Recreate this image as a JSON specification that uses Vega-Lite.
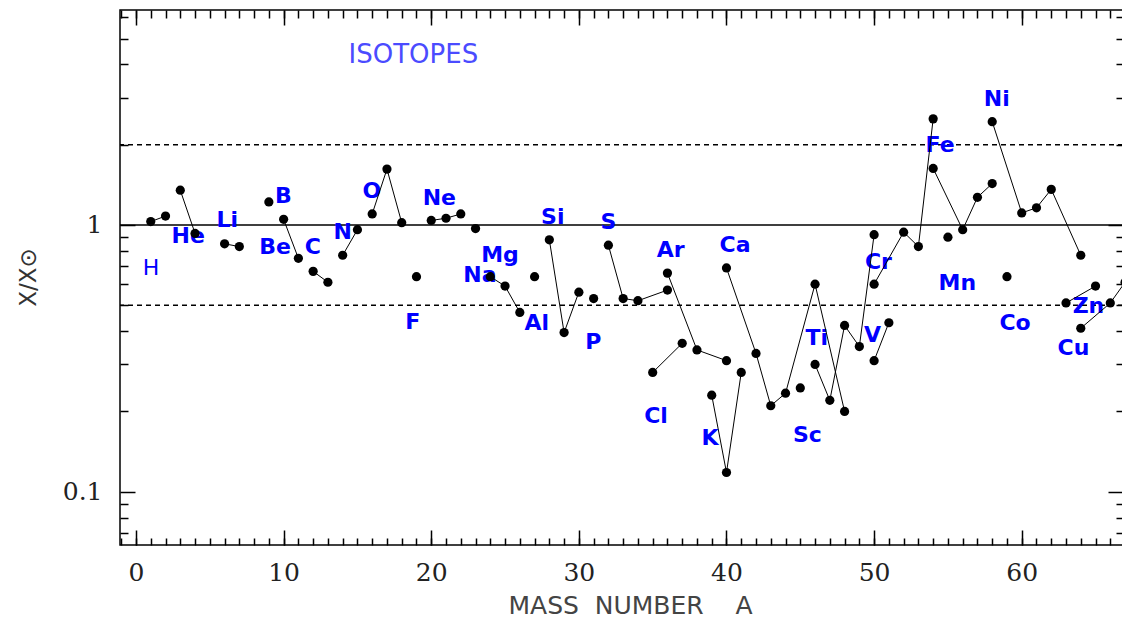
{
  "$schema": "https://vega.github.io/schema/vega-lite/v6.json",
  "width": 1003,
  "height": 535,
  "autosize": {"type": "none"},
  "padding": {"left": 120, "top": 10, "right": 0, "bottom": 74},
  "background": "white",
  "config": {
    "view": {"stroke": "#000", "strokeWidth": 1.5},
    "axis": {"grid": false, "domain": false}
  },
  "datasets": {
    "hl": [
      {"v": 1, "k": "solid"},
      {"v": 2, "k": "dash"},
      {"v": 0.5, "k": "dash"}
    ],
    "pts": [
      {"el": "H", "A": 1, "r": 1.03}, {"el": "H", "A": 2, "r": 1.08},
      {"el": "He", "A": 3, "r": 1.35}, {"el": "He", "A": 4, "r": 0.93},
      {"el": "Li", "A": 6, "r": 0.85}, {"el": "Li", "A": 7, "r": 0.83},
      {"el": "Be", "A": 9, "r": 1.22},
      {"el": "B", "A": 10, "r": 1.05}, {"el": "B", "A": 11, "r": 0.75},
      {"el": "C", "A": 12, "r": 0.67}, {"el": "C", "A": 13, "r": 0.61},
      {"el": "N", "A": 14, "r": 0.77}, {"el": "N", "A": 15, "r": 0.96},
      {"el": "O", "A": 16, "r": 1.10}, {"el": "O", "A": 17, "r": 1.62}, {"el": "O", "A": 18, "r": 1.02},
      {"el": "F", "A": 19, "r": 0.64},
      {"el": "Ne", "A": 20, "r": 1.04}, {"el": "Ne", "A": 21, "r": 1.06}, {"el": "Ne", "A": 22, "r": 1.10},
      {"el": "Na", "A": 23, "r": 0.97},
      {"el": "Mg", "A": 24, "r": 0.64}, {"el": "Mg", "A": 25, "r": 0.59}, {"el": "Mg", "A": 26, "r": 0.47},
      {"el": "Al", "A": 27, "r": 0.64},
      {"el": "Si", "A": 28, "r": 0.88}, {"el": "Si", "A": 29, "r": 0.395}, {"el": "Si", "A": 30, "r": 0.56},
      {"el": "P", "A": 31, "r": 0.53},
      {"el": "S", "A": 32, "r": 0.84}, {"el": "S", "A": 33, "r": 0.53}, {"el": "S", "A": 34, "r": 0.52}, {"el": "S", "A": 36, "r": 0.57},
      {"el": "Cl", "A": 35, "r": 0.28}, {"el": "Cl", "A": 37, "r": 0.36},
      {"el": "Ar", "A": 36, "r": 0.66}, {"el": "Ar", "A": 38, "r": 0.34}, {"el": "Ar", "A": 40, "r": 0.31},
      {"el": "K", "A": 39, "r": 0.23}, {"el": "K", "A": 40, "r": 0.118}, {"el": "K", "A": 41, "r": 0.28},
      {"el": "Ca", "A": 40, "r": 0.69}, {"el": "Ca", "A": 42, "r": 0.33}, {"el": "Ca", "A": 43, "r": 0.21}, {"el": "Ca", "A": 44, "r": 0.234}, {"el": "Ca", "A": 46, "r": 0.60}, {"el": "Ca", "A": 48, "r": 0.20},
      {"el": "Sc", "A": 45, "r": 0.245},
      {"el": "Ti", "A": 46, "r": 0.30}, {"el": "Ti", "A": 47, "r": 0.22}, {"el": "Ti", "A": 48, "r": 0.42}, {"el": "Ti", "A": 49, "r": 0.35}, {"el": "Ti", "A": 50, "r": 0.92},
      {"el": "V", "A": 50, "r": 0.31}, {"el": "V", "A": 51, "r": 0.43},
      {"el": "Cr", "A": 50, "r": 0.60}, {"el": "Cr", "A": 52, "r": 0.94}, {"el": "Cr", "A": 53, "r": 0.83}, {"el": "Cr", "A": 54, "r": 2.5},
      {"el": "Mn", "A": 55, "r": 0.90},
      {"el": "Fe", "A": 54, "r": 1.63}, {"el": "Fe", "A": 56, "r": 0.96}, {"el": "Fe", "A": 57, "r": 1.27}, {"el": "Fe", "A": 58, "r": 1.43},
      {"el": "Co", "A": 59, "r": 0.64},
      {"el": "Ni", "A": 58, "r": 2.44}, {"el": "Ni", "A": 60, "r": 1.11}, {"el": "Ni", "A": 61, "r": 1.16}, {"el": "Ni", "A": 62, "r": 1.36}, {"el": "Ni", "A": 64, "r": 0.77},
      {"el": "Cu", "A": 63, "r": 0.51}, {"el": "Cu", "A": 65, "r": 0.59},
      {"el": "Zn", "A": 64, "r": 0.41}, {"el": "Zn", "A": 66, "r": 0.51}, {"el": "Zn", "A": 67, "r": 0.61}
    ],
    "labels": [
      {"el": "H", "lx": 1.02, "ly": 0.688},
      {"el": "He", "lx": 3.54, "ly": 0.909},
      {"el": "Li", "lx": 6.19, "ly": 1.044},
      {"el": "B", "lx": 9.98, "ly": 1.288},
      {"el": "Be", "lx": 9.42, "ly": 0.825},
      {"el": "C", "lx": 11.97, "ly": 0.825},
      {"el": "N", "lx": 14.0, "ly": 0.944},
      {"el": "O", "lx": 15.97, "ly": 1.345},
      {"el": "F", "lx": 18.74, "ly": 0.434},
      {"el": "Ne", "lx": 20.55, "ly": 1.26},
      {"el": "Mg", "lx": 24.66, "ly": 0.772},
      {"el": "Na", "lx": 23.3, "ly": 0.649},
      {"el": "Al", "lx": 27.15, "ly": 0.428},
      {"el": "Si", "lx": 28.23, "ly": 1.074},
      {"el": "P", "lx": 30.98, "ly": 0.365},
      {"el": "S", "lx": 32.0, "ly": 1.03},
      {"el": "Ar", "lx": 36.22, "ly": 0.806},
      {"el": "Cl", "lx": 35.23, "ly": 0.192},
      {"el": "K", "lx": 38.89, "ly": 0.1585},
      {"el": "Ca", "lx": 40.58, "ly": 0.841},
      {"el": "Sc", "lx": 45.48, "ly": 0.163},
      {"el": "Ti", "lx": 46.11, "ly": 0.376},
      {"el": "V", "lx": 49.9, "ly": 0.387},
      {"el": "Cr", "lx": 50.29, "ly": 0.729},
      {"el": "Fe", "lx": 54.47, "ly": 2.0},
      {"el": "Mn", "lx": 55.64, "ly": 0.605},
      {"el": "Ni", "lx": 58.31, "ly": 2.96},
      {"el": "Co", "lx": 59.55, "ly": 0.428},
      {"el": "Cu", "lx": 63.5, "ly": 0.345},
      {"el": "Zn", "lx": 64.52, "ly": 0.497}
    ],
    "title": [
      {"t": "ISOTOPES", "lx": 18.79, "ly": 4.34}
    ]
  },
  "resolve": {"axis": {"x": "independent", "y": "independent"}},
  "layer": [
    {
      "data": {"name": "hl"},
      "mark": {"type": "rule", "color": "#000", "strokeWidth": 1.4},
      "encoding": {
        "y": {
          "field": "v", "type": "quantitative",
          "scale": {"type": "log", "domain": [0.0631, 6.4], "nice": false},
          "axis": {
            "orient": "left", "values": [0.1, 1], "format": "~g", "ticks": false,
            "labelFont": "DejaVu Serif", "labelFontSize": 25, "labelColor": "#222",
            "labelPadding": 18, "labelAlign": "right", "labelBaseline": "middle",
            "title": "X/X⊙", "titleFont": "DejaVu Sans", "titleFontSize": 23,
            "titleFontWeight": "normal", "titleColor": "#333", "titleAngle": -90,
            "titleX": -85, "titleY": 267, "titleAlign": "center", "titleBaseline": "alphabetic"
          }
        },
        "strokeDash": {
          "field": "k", "type": "nominal",
          "scale": {"domain": ["solid", "dash"], "range": [[1, 0], [5, 4]]},
          "legend": null
        }
      }
    },
    {
      "data": {"name": "title"},
      "mark": {"type": "text", "color": "#4b4bff", "font": "DejaVu Sans", "fontSize": 26, "fontWeight": "normal", "align": "center", "baseline": "middle"},
      "encoding": {
        "x": {
          "field": "lx", "type": "quantitative",
          "scale": {"domain": [-1.084, 66.86], "nice": false, "zero": false},
          "axis": {
            "orient": "bottom", "values": [0, 10, 20, 30, 40, 50, 60], "format": "d", "ticks": false,
            "labelFont": "DejaVu Serif", "labelFontSize": 25, "labelColor": "#222",
            "labelPadding": 35, "labelBaseline": "alphabetic", "labelFlush": false, "labelOverlap": false,
            "title": "MASS\u00a0\u00a0NUMBER\u00a0\u00a0\u00a0\u00a0A", "titleFont": "DejaVu Sans", "titleFontSize": 25,
            "titleFontWeight": "normal", "titleColor": "#444",
            "titleX": 510, "titleY": 68, "titleAlign": "center", "titleBaseline": "alphabetic"
          }
        },
        "y": {
          "field": "ly", "type": "quantitative",
          "scale": {"type": "log", "domain": [0.0631, 6.4], "nice": false},
          "axis": {
            "orient": "left", "values": [0.07, 0.08, 0.09, 0.2, 0.3, 0.4, 0.5, 0.6, 0.7, 0.8, 0.9, 2, 3, 4, 5, 6],
            "labels": false, "ticks": true, "tickSize": -8, "tickWidth": 1.5, "tickColor": "#000", "title": null
          }
        },
        "text": {"field": "t"}
      }
    },
    {
      "data": {"name": "labels"},
      "transform": [{"filter": "datum.el == 'H'"}],
      "mark": {"type": "text", "color": "#0000ff", "font": "DejaVu Sans", "fontSize": 22, "fontWeight": "normal", "align": "center", "baseline": "middle"},
      "encoding": {
        "x": {
          "field": "lx", "type": "quantitative",
          "scale": {"domain": [-1.084, 66.86], "nice": false, "zero": false},
          "axis": {
            "orient": "bottom",
            "values": [-1, 0, 1, 2, 3, 4, 5, 6, 7, 8, 9, 10, 11, 12, 13, 14, 15, 16, 17, 18, 19, 20, 21, 22, 23, 24, 25, 26, 27, 28, 29, 30, 31, 32, 33, 34, 35, 36, 37, 38, 39, 40, 41, 42, 43, 44, 45, 46, 47, 48, 49, 50, 51, 52, 53, 54, 55, 56, 57, 58, 59, 60, 61, 62, 63, 64, 65, 66],
            "labels": false, "ticks": true, "tickSize": -7, "tickWidth": 1.5, "tickColor": "#000", "title": null
          }
        },
        "y": {
          "field": "ly", "type": "quantitative",
          "scale": {"type": "log", "domain": [0.0631, 6.4], "nice": false},
          "axis": {
            "orient": "left", "values": [0.1, 1],
            "labels": false, "ticks": true, "tickSize": -15, "tickWidth": 1.5, "tickColor": "#000", "title": null
          }
        },
        "text": {"field": "el"}
      }
    },
    {
      "data": {"name": "labels"},
      "transform": [{"filter": "datum.el != 'H'"}],
      "mark": {"type": "text", "color": "#0000ff", "font": "DejaVu Sans", "fontSize": 22, "fontWeight": "bold", "align": "center", "baseline": "middle"},
      "encoding": {
        "x": {
          "field": "lx", "type": "quantitative",
          "scale": {"domain": [-1.084, 66.86], "nice": false, "zero": false},
          "axis": {
            "orient": "bottom", "values": [0, 10, 20, 30, 40, 50, 60],
            "labels": false, "ticks": true, "tickSize": -15, "tickWidth": 1.5, "tickColor": "#000", "title": null
          }
        },
        "y": {
          "field": "ly", "type": "quantitative",
          "scale": {"type": "log", "domain": [0.0631, 6.4], "nice": false},
          "axis": {
            "orient": "right", "values": [0.07, 0.08, 0.09, 0.2, 0.3, 0.4, 0.5, 0.6, 0.7, 0.8, 0.9, 2, 3, 4, 5, 6],
            "labels": false, "ticks": true, "tickSize": -7, "tickWidth": 1.5, "tickColor": "#000", "title": null
          }
        },
        "text": {"field": "el"}
      }
    },
    {
      "data": {"name": "pts"},
      "mark": {"type": "line", "color": "#000", "strokeWidth": 1, "clip": true},
      "encoding": {
        "x": {
          "field": "A", "type": "quantitative",
          "scale": {"domain": [-1.084, 66.86], "nice": false, "zero": false},
          "axis": {
            "orient": "top",
            "values": [-1, 0, 1, 2, 3, 4, 5, 6, 7, 8, 9, 10, 11, 12, 13, 14, 15, 16, 17, 18, 19, 20, 21, 22, 23, 24, 25, 26, 27, 28, 29, 30, 31, 32, 33, 34, 35, 36, 37, 38, 39, 40, 41, 42, 43, 44, 45, 46, 47, 48, 49, 50, 51, 52, 53, 54, 55, 56, 57, 58, 59, 60, 61, 62, 63, 64, 65, 66],
            "labels": false, "ticks": true, "tickSize": -8, "tickWidth": 1.5, "tickColor": "#000", "title": null
          }
        },
        "y": {
          "field": "r", "type": "quantitative",
          "scale": {"type": "log", "domain": [0.0631, 6.4], "nice": false},
          "axis": {
            "orient": "right", "values": [0.1, 1],
            "labels": false, "ticks": true, "tickSize": -15, "tickWidth": 1.5, "tickColor": "#000", "title": null
          }
        },
        "detail": {"field": "el", "type": "nominal"}
      }
    },
    {
      "data": {"name": "pts"},
      "mark": {"type": "circle", "color": "#000", "size": 85, "opacity": 1, "clip": true},
      "encoding": {
        "x": {
          "field": "A", "type": "quantitative",
          "scale": {"domain": [-1.084, 66.86], "nice": false, "zero": false},
          "axis": {
            "orient": "top", "values": [0, 10, 20, 30, 40, 50, 60],
            "labels": false, "ticks": true, "tickSize": -15, "tickWidth": 1.5, "tickColor": "#000", "title": null
          }
        },
        "y": {
          "field": "r", "type": "quantitative",
          "scale": {"type": "log", "domain": [0.0631, 6.4], "nice": false},
          "axis": null
        }
      }
    }
  ]
}
